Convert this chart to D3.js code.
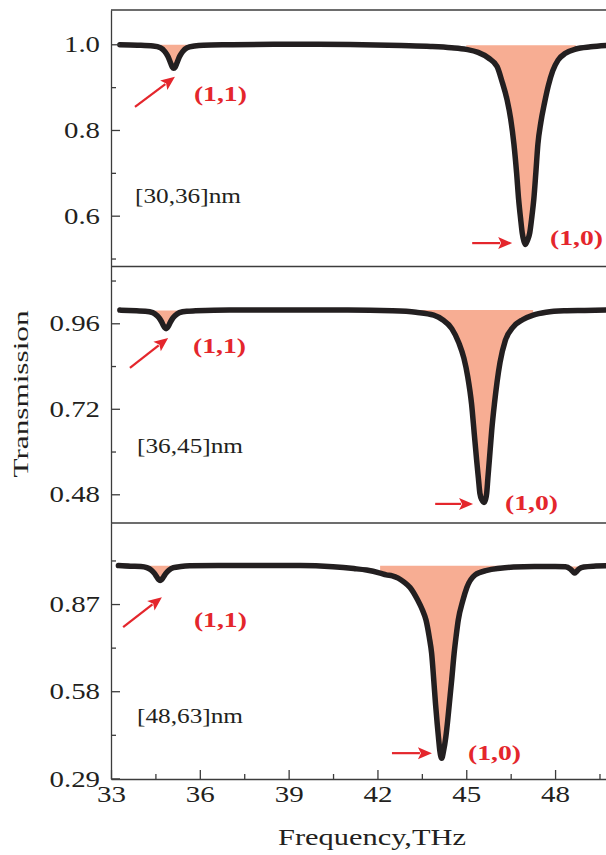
<!DOCTYPE html>
<html>
<head>
<meta charset="utf-8">
<script src="https://cdn.jsdelivr.net/npm/d3@7"></script>
<style>
  body { margin: 0; background: #fff; }
  text { font-family: "Liberation Serif", "DejaVu Serif", serif; fill: #231f20; }
</style>
</head>
<body>
<div id="chart"></div>
<script>
var width = 606
var height = 855

// x axis ticks (THz)
var xMajor = [33, 36, 39, 42, 45, 48]
var xMinor = [34.5, 37.5, 40.5, 43.5, 46.5, 49.5]

// panel 1: [30,36]nm
var freqA = [33.30, 33.9, 34.42, 34.67, 34.82, 34.92, 34.97, 35.02, 35.07, 35.12, 35.17, 35.22, 35.27, 35.32, 35.42, 35.57, 35.82, 36.12,
  37.0, 38.5, 40.0, 41.5, 42.8, 43.8, 44.5, 45.0, 45.4, 45.75, 46.04, 46.2, 46.38, 46.5, 46.61, 46.70, 46.77, 46.84, 46.89, 46.95,
  47.00, 47.06, 47.145, 47.22, 47.28, 47.35, 47.42, 47.52, 47.64, 47.77, 47.92, 48.1, 48.35, 48.7, 49.2, 49.72]
var transA = [0.999, 0.998, 0.996, 0.992, 0.983, 0.972, 0.964, 0.955, 0.947, 0.944, 0.947, 0.955, 0.964, 0.972, 0.983, 0.992, 0.996, 0.998,
  0.999, 1.000, 1.000, 0.999, 0.997, 0.995, 0.992, 0.988, 0.981, 0.968, 0.948, 0.915, 0.870, 0.826, 0.767, 0.700, 0.637, 0.590, 0.560, 0.540,
  0.533, 0.541, 0.560, 0.600, 0.637, 0.700, 0.767, 0.818, 0.862, 0.903, 0.938, 0.963, 0.979, 0.989, 0.994, 0.997]
var yMajorA = [0.6, 0.8, 1.0]
var yMinorA = [0.5, 0.7, 0.9]

// panel 2: [36,45]nm
var freqB = [33.30, 33.86, 34.16, 34.41, 34.56, 34.66, 34.71, 34.76, 34.81, 34.86, 34.91, 34.96, 35.01, 35.06, 35.16, 35.31, 35.56, 35.86,
  37.0, 39.0, 41.0, 42.5, 43.3, 43.9, 44.2, 44.51, 44.75, 44.92, 45.05, 45.18, 45.27, 45.35, 45.41, 45.46, 45.53,
  45.60, 45.65, 45.69, 45.73, 45.78, 45.86, 45.95, 46.04, 46.14, 46.32, 46.59, 46.9, 47.26, 47.7, 48.3, 49.0, 49.72]
var transB = [0.997, 0.995, 0.994, 0.990, 0.981, 0.971, 0.964, 0.955, 0.948, 0.945, 0.948, 0.955, 0.964, 0.971, 0.981, 0.990, 0.994, 0.995,
  0.997, 0.997, 0.997, 0.995, 0.991, 0.983, 0.970, 0.945, 0.905, 0.862, 0.810, 0.733, 0.650, 0.576, 0.525, 0.483, 0.464,
  0.457, 0.465, 0.483, 0.525, 0.576, 0.660, 0.733, 0.795, 0.850, 0.912, 0.950, 0.970, 0.983, 0.991, 0.995, 0.996, 0.997]
var yMajorB = [0.48, 0.72, 0.96]
var yMinorB = [0.60, 0.84, 1.08]

// panel 3: [48,63]nm
var freqC = [33.25, 33.66, 34.01, 34.21, 34.36, 34.46, 34.51, 34.56, 34.61, 34.66, 34.71, 34.76, 34.81, 34.86, 34.96, 35.11, 35.36, 35.66,
  37.0, 39.4, 40.5, 41.2, 41.63, 42.09, 42.3, 42.5, 42.7, 42.9, 43.10, 43.35, 43.52, 43.64, 43.75, 43.83, 43.90, 43.96, 44.02, 44.06, 44.11,
  44.17, 44.23, 44.31, 44.37, 44.43, 44.51, 44.59, 44.66, 44.73, 44.88, 45.02, 45.30, 45.7, 46.14, 46.6, 47.3, 48.0,
  48.35, 48.52, 48.62, 48.66, 48.71, 48.8, 48.97, 49.3, 49.72]
var transC = [0.998, 0.996, 0.995, 0.991, 0.983, 0.973, 0.966, 0.958, 0.951, 0.948, 0.951, 0.958, 0.966, 0.973, 0.983, 0.991, 0.995, 0.997,
  0.998, 0.998, 0.994, 0.988, 0.983, 0.973, 0.967, 0.964, 0.956, 0.943, 0.925, 0.885, 0.850, 0.817, 0.760, 0.706, 0.620, 0.540, 0.470, 0.428, 0.380,
  0.357, 0.380, 0.428, 0.480, 0.540, 0.620, 0.706, 0.765, 0.817, 0.880, 0.925, 0.967, 0.982, 0.989, 0.993, 0.995, 0.995,
  0.994, 0.986, 0.976, 0.973, 0.977, 0.986, 0.993, 0.996, 0.997]
var yMajorC = [0.29, 0.58, 0.87]
var yMinorC = [0.435, 0.725, 1.015]

// shaded dips: [from, to, level]
var fillsA = [[34.67, 35.57, 0.999], [45.0, 48.7, 0.998]]
var fillsB = [[34.41, 35.31, 0.996], [43.3, 47.26, 0.997]]
var fillsC = [[34.21, 35.11, 0.997], [42.09, 46.14, 0.997], [48.35, 48.97, 0.995]]

var red = '#e4262c'
var ink = '#231f20'
var fillColor = '#f7ad93'
var axisGray = '#3c3c3c'

// rough glyph widths used to keep the serif labels the size they are in the picture
function labelWidth(s) {
  var w = 0
  for (var i = 0; i < s.length; i++) w += (s[i] == '.' ? 7 : 14.5)
  return w
}

var svg = d3.select("#chart")
  .append('svg')
  .attr("width", width)
  .attr("height", height);

var x = d3.scaleLinear().domain([33, 49.72]).range([111, 606])

var panels = [
  { freq: freqA, trans: transA, dom: [0.4814, 1.080], top: 10, bottom: 266.5, major: yMajorA, minor: yMinorA, fmt: '.1f', fills: fillsA,
    name: '[30,36]nm', nameAt: [33.81, 0.630],
    arrows: [[33.81, 0.854, 35.16, 0.924], [45.20, 0.536, 46.55, 0.536]],
    marks: [['(1,1)', 35.80, 0.868], ['(1,0)', 47.83, 0.532]] },
  { freq: freqB, trans: transB, dom: [0.3994, 1.1194], top: 266.5, bottom: 523, major: yMajorB, minor: yMinorB, fmt: '.2f', fills: fillsB,
    name: '[36,45]nm', nameAt: [33.88, 0.596],
    arrows: [[33.64, 0.835, 34.93, 0.919], [43.95, 0.453, 45.23, 0.453]],
    marks: [['(1,1)', 35.77, 0.877], ['(1,0)', 46.31, 0.436]] },
  { freq: freqC, trans: transC, dom: [0.288, 1.1396], top: 523, bottom: 779, major: yMajorC, minor: yMinorC, fmt: '.2f', fills: fillsC,
    name: '[48,63]nm', nameAt: [33.88, 0.474],
    arrows: [[33.41, 0.793, 34.72, 0.893], [42.49, 0.374, 43.84, 0.374]],
    marks: [['(1,1)', 35.80, 0.793], ['(1,0)', 45.06, 0.351]] }
]

function arrow(g, x1, y1, x2, y2) {
  var a = Math.atan2(y2 - y1, x2 - x1)
  var len = 14, half = 6
  var bx = x2 - len * Math.cos(a), by = y2 - len * Math.sin(a)
  g.append('line')
    .attr('x1', x1).attr('y1', y1)
    .attr('x2', bx + 2 * Math.cos(a)).attr('y2', by + 2 * Math.sin(a))
    .attr('stroke', red).attr('stroke-width', 2.2)
  var px = -Math.sin(a), py = Math.cos(a)
  g.append('path')
    .attr('d', 'M' + x2 + ',' + y2 +
      'L' + (bx + px * half) + ',' + (by + py * half) +
      'L' + (bx + 3 * Math.cos(a)) + ',' + (by + 3 * Math.sin(a)) +
      'L' + (bx - px * half) + ',' + (by - py * half) + 'Z')
    .attr('fill', red)
}

function styleTickText(sel) {
  sel.attr('font-size', 24)
    .attr('fill', ink)
    .attr('textLength', function() { return labelWidth(this.textContent) })
    .attr('lengthAdjust', 'spacingAndGlyphs')
}

panels.forEach(function(p, i) {
  var y = d3.scaleLinear().domain(p.dom).range([p.bottom, p.top])
  var pts = p.freq.map(function(f, j) { return { f: f, t: p.trans[j] } })
  var g = svg.append('g')

  // shaded dips
  p.fills.forEach(function(fl) {
    var seg = pts.filter(function(d) { return d.f >= fl[0] && d.f <= fl[1] })
    g.append('path')
      .datum(seg)
      .attr('fill', fillColor)
      .attr('d', d3.area()
        .x(function(d) { return x(d.f) })
        .y0(y(fl[2]))
        .y1(function(d) { return y(d.t) })
        .curve(d3.curveMonotoneX))
  })

  // transmission curve
  g.append('path')
    .datum(pts)
    .attr('fill', 'none')
    .attr('stroke', ink)
    .attr('stroke-width', 5.5)
    .attr('stroke-linejoin', 'round')
    .attr('stroke-linecap', 'round')
    .attr('d', d3.line()
      .x(function(d) { return x(d.f) })
      .y(function(d) { return y(d.t) })
      .curve(d3.curveMonotoneX))

  // top border of panel
  svg.append('line')
    .attr('x1', x.range()[0]).attr('x2', x.range()[1])
    .attr('y1', p.top).attr('y2', p.top)
    .attr('stroke', axisGray).attr('stroke-width', 1.3)

  // y axis
  var ax = svg.append('g').attr('transform', 'translate(' + x.range()[0] + ',0)')
    .call(d3.axisLeft(y).tickValues(p.major).tickFormat(d3.format(p.fmt))
      .tickSizeInner(-9).tickSizeOuter(0).tickPadding(11))
  ax.select('.domain').attr('stroke', axisGray).attr('stroke-width', 1.3)
  ax.selectAll('.tick line').attr('stroke', axisGray).attr('stroke-width', 1.3)
  ax.selectAll('.tick text').call(styleTickText)
  var axm = svg.append('g').attr('transform', 'translate(' + x.range()[0] + ',0)')
    .call(d3.axisLeft(y).tickValues(p.minor).tickFormat('').tickSizeInner(-5).tickSizeOuter(0))
  axm.select('.domain').remove()
  axm.selectAll('.tick line').attr('stroke', axisGray).attr('stroke-width', 1.3)

  // sample label
  svg.append('text')
    .attr('x', x(p.nameAt[0])).attr('y', y(p.nameAt[1]))
    .attr('font-size', 20)
    .attr('textLength', 106).attr('lengthAdjust', 'spacingAndGlyphs')
    .text(p.name)

  // mode annotations
  p.arrows.forEach(function(a) { arrow(svg, x(a[0]), y(a[1]), x(a[2]), y(a[3])) })
  p.marks.forEach(function(m) {
    svg.append('text')
      .attr('x', x(m[1])).attr('y', y(m[2]))
      .attr('font-size', 21).attr('font-weight', 'bold')
      .style('fill', red)
      .attr('textLength', 53).attr('lengthAdjust', 'spacingAndGlyphs')
      .text(m[0])
  })
})

// bottom x axis
var bottomY = panels[2].bottom
var xa = svg.append('g').attr('transform', 'translate(0,' + bottomY + ')')
  .call(d3.axisBottom(x).tickValues(xMajor).tickFormat(d3.format('d'))
    .tickSizeInner(-9).tickSizeOuter(0).tickPadding(6))
xa.select('.domain').attr('stroke', axisGray).attr('stroke-width', 1.3)
xa.selectAll('.tick line').attr('stroke', axisGray).attr('stroke-width', 1.3)
xa.selectAll('.tick text').call(styleTickText)
var xm = svg.append('g').attr('transform', 'translate(0,' + bottomY + ')')
  .call(d3.axisBottom(x).tickValues(xMinor).tickFormat('').tickSizeInner(-5).tickSizeOuter(0))
xm.select('.domain').remove()
xm.selectAll('.tick line').attr('stroke', axisGray).attr('stroke-width', 1.3)

// axis titles
svg.append('text')
  .attr('x', 372).attr('y', 845)
  .attr('text-anchor', 'middle')
  .attr('font-size', 23)
  .attr('textLength', 188).attr('lengthAdjust', 'spacingAndGlyphs')
  .text('Frequency,THz')

svg.append('text')
  .attr('transform', 'translate(28,394) rotate(-90)')
  .attr('text-anchor', 'middle')
  .attr('font-size', 20)
  .attr('textLength', 167).attr('lengthAdjust', 'spacingAndGlyphs')
  .text('Transmission')
</script>
</body>
</html>
